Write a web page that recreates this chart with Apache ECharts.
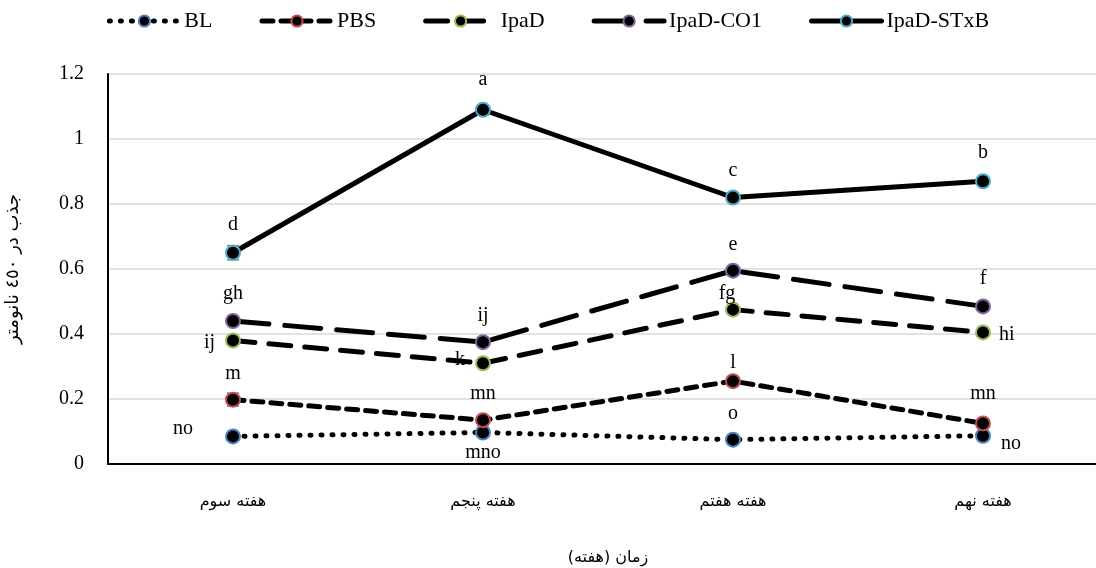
<!DOCTYPE html>
<html><head><meta charset="utf-8">
<script src="https://cdn.jsdelivr.net/npm/echarts@6/dist/echarts.min.js"></script>
<style>html,body{margin:0;padding:0;background:#fff}#c{width:1096px;height:568px}</style>
</head><body><div id="c"></div>
<script>
const categories = ['هفته سوم', 'هفته پنجم', 'هفته هفتم', 'هفته نهم'];
const seriesNames = ['BL', 'PBS', 'IpaD', 'IpaD-CO1', 'IpaD-STxB'];
const BL = [0.085, 0.097, 0.075, 0.087];
const PBS = [0.198, 0.135, 0.255, 0.125];
const IpaD = [0.38, 0.31, 0.475, 0.405];
const IpaDCO1 = [0.44, 0.375, 0.595, 0.485];
const IpaDSTxB = [0.65, 1.09, 0.82, 0.87];
const errBL = [0.005, 0.005, 0.005, 0.005];
const errPBS = [0.02, 0.012, 0.008, 0.008];
const errIpaD = [0.01, 0.012, 0.01, 0.015];
const errCO1 = [0.008, 0.01, 0.008, 0.008];
const errSTxB = [0.022, 0.015, 0.008, 0.008];
const lettersBL = ['no', 'mno', 'o', 'no'];
const lettersPBS = ['m', 'mn', 'l', 'mn'];
const lettersIpaD = ['ij', 'k', 'fg', 'hi'];
const lettersCO1 = ['gh', 'ij', 'e', 'f'];
const lettersSTxB = ['d', 'a', 'c', 'b'];
const yTicks = { min: 0, max: 1.2, interval: 0.2 };
const xAxisName = 'زمان (هفته)';
const yAxisName = 'جذب در ٤٥٠ نانومتر';

const values = [BL, PBS, IpaD, IpaDCO1, IpaDSTxB];
const errs = [errBL, errPBS, errIpaD, errCO1, errSTxB];
const letters = [lettersBL, lettersPBS, lettersIpaD, lettersCO1, lettersSTxB];
const borderColors = ['#4F81BD', '#C0504D', '#9BBB59', '#8064A2', '#4BACC6'];
const lineTypes = [[1, 10], [11, 8], [22, 14], [36, 16], 'solid'];
const lineWidths = [5, 5, 5, 5, 5];
// label placement per series / point: [position, dx, dy]
const labelPlace = [
  [['left', -20, -8], ['bottom', 0, -10], ['top', 0, 4], ['right', -2, 8]],
  [['top', 0, 4], ['top', 0, 4], ['top', 0, 12], ['top', 0, 0]],
  [['left', 2, 2], ['left', 2, -4], ['top', -6, 14], ['right', -4, 2]],
  [['top', 0, 3], ['top', 0, 4], ['top', 0, 4], ['top', 0, 2]],
  [['top', 0, 2], ['top', 0, 0], ['top', 0, 3], ['top', 0, 1]]
];

const serif = 'Liberation Serif, Times New Roman, serif';
const arab = 'DejaVu Sans, Noto Sans, sans-serif';

const series = [];
values.forEach((vals, si) => {
  series.push({
    name: seriesNames[si],
    type: 'line',
    z: 3,
    symbol: 'circle',
    symbolSize: 14,
    itemStyle: { color: '#000', borderColor: borderColors[si], borderWidth: 2 },
    lineStyle: { color: '#000', width: lineWidths[si], type: lineTypes[si], cap: 'round' },
    data: vals.map((v, i) => ({
      value: v,
      label: {
        show: true,
        formatter: letters[si][i],
        position: labelPlace[si][i][0],
        offset: [labelPlace[si][i][1], labelPlace[si][i][2]],
        distance: 12,
        fontFamily: serif,
        fontSize: 20,
        color: '#000'
      }
    })),
    emphasis: { disabled: true },
    animation: false
  });
});
const errData = [];
values.forEach((vals, si) => vals.forEach((v, i) => errData.push([i, v - errs[si][i], v + errs[si][i]])));
series.push({
  type: 'custom',
  z: 1,
  silent: true,
  animation: false,
  renderItem: function (params, api) {
    const x = api.value(0);
    const lo = api.coord([x, api.value(1)]);
    const hi = api.coord([x, api.value(2)]);
    const w = 6;
    const st = { stroke: '#7f7f7f', lineWidth: 1.5 };
    return {
      type: 'group', children: [
        { type: 'line', shape: { x1: lo[0], y1: lo[1], x2: hi[0], y2: hi[1] }, style: st },
        { type: 'line', shape: { x1: lo[0] - w, y1: lo[1], x2: lo[0] + w, y2: lo[1] }, style: st },
        { type: 'line', shape: { x1: hi[0] - w, y1: hi[1], x2: hi[0] + w, y2: hi[1] }, style: st }
      ]
    };
  },
  data: errData
});

const chart = echarts.init(document.getElementById('c'), null, { renderer: 'canvas' });
chart.setOption({
  backgroundColor: '#fff',
  animation: false,
  legend: {
    data: seriesNames,
    top: 5,
    left: 'center',
    itemWidth: 70,
    itemHeight: 14,
    itemGap: 47,
    lineStyle: { width: 5 },
    textStyle: { fontFamily: serif, fontSize: 22, color: '#000' }
  },
  grid: { left: 108, top: 74, width: 1000, height: 390, containLabel: false, outerBoundsMode: 'none' },
  xAxis: {
    type: 'category',
    data: categories,
    boundaryGap: true,
    axisLine: { lineStyle: { color: '#000', width: 2 } },
    axisTick: { show: false },
    axisLabel: { fontFamily: arab, fontSize: 16, color: '#000', margin: 30 },
    name: xAxisName,
    nameLocation: 'middle',
    nameGap: 86,
    nameTextStyle: { fontFamily: arab, fontSize: 16, color: '#000' }
  },
  yAxis: {
    type: 'value',
    min: yTicks.min, max: yTicks.max, interval: yTicks.interval,
    axisLine: { show: true, lineStyle: { color: '#000', width: 2 } },
    axisTick: { show: false },
    splitLine: { lineStyle: { color: '#d9d9d9', width: 1.5 } },
    axisLabel: { fontFamily: serif, fontSize: 20, color: '#000', margin: 24 },
    name: yAxisName,
    nameLocation: 'middle',
    nameGap: 86,
    nameRotate: 90,
    nameTextStyle: { fontFamily: arab, fontSize: 18, color: '#000' }
  },
  series: series
});
</script></body></html>
